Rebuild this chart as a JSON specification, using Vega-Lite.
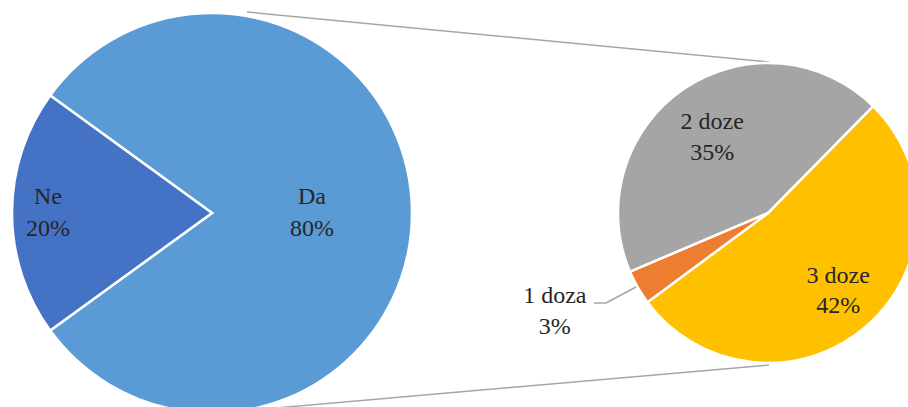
{
  "$schema": "https://vega.github.io/schema/vega-lite/v6.json",
  "width": 908,
  "height": 407,
  "padding": 0,
  "autosize": {"type": "none"},
  "background": "white",
  "config": {"view": {"stroke": null}},
  "datasets": {
    "main": [
      {"cat": "Da", "value": 80, "o": 1, "label": "Da\n80%"},
      {"cat": "Ne", "value": 20, "o": 2, "label": "Ne\n20%"}
    ],
    "sub": [
      {"cat": "3 doze", "value": 42, "o": 1, "label": "3 doze\n42%"},
      {"cat": "1 doza", "value": 3, "o": 2, "label": "1 doza\n3%"},
      {"cat": "2 doze", "value": 35, "o": 3, "label": "2 doze\n35%"}
    ],
    "one": [{}]
  },
  "resolve": {"scale": {"theta": "independent"}},
  "layer": [
    {
      "data": {"name": "one"},
      "mark": {"type": "rule", "color": "#A6A6A6", "strokeWidth": 1.5},
      "encoding": {
        "x": {"datum": 247, "type": "quantitative", "scale": {"domain": [0, 908], "nice": false}, "axis": null},
        "y": {"datum": 12, "type": "quantitative", "scale": {"domain": [0, 407], "nice": false, "reverse": true}, "axis": null},
        "x2": {"datum": 769},
        "y2": {"datum": 62}
      }
    },
    {
      "data": {"name": "one"},
      "mark": {"type": "rule", "color": "#A6A6A6", "strokeWidth": 1.5},
      "encoding": {
        "x": {"datum": 230, "type": "quantitative", "scale": {"domain": [0, 908], "nice": false}, "axis": null},
        "y": {"datum": 412, "type": "quantitative", "scale": {"domain": [0, 407], "nice": false, "reverse": true}, "axis": null},
        "x2": {"datum": 769},
        "y2": {"datum": 365}
      }
    },
    {
      "data": {"name": "main"},
      "encoding": {
        "x": {"datum": 212, "type": "quantitative", "scale": {"domain": [0, 908], "nice": false}, "axis": null},
        "y": {"datum": 213, "type": "quantitative", "scale": {"domain": [0, 407], "nice": false, "reverse": true}, "axis": null},
        "theta": {"field": "value", "type": "quantitative", "stack": true, "scale": {"range": [-0.9425, 5.3407]}},
        "order": {"field": "o", "type": "quantitative"}
      },
      "layer": [
        {
          "mark": {"type": "arc", "outerRadius": 200, "stroke": "white", "strokeWidth": 2.5},
          "encoding": {
            "color": {
              "field": "cat", "type": "nominal", "legend": null,
              "scale": {"domain": ["Da", "Ne", "1 doza", "2 doze", "3 doze"], "range": ["#5B9BD5", "#4472C4", "#ED7D31", "#A5A5A5", "#FFC000"]}
            }
          }
        },
        {
          "mark": {"type": "text", "radius": 100, "dy": -16, "font": "Liberation Serif", "fontSize": 24, "lineBreak": "\n", "lineHeight": 32, "align": "center", "baseline": "middle"},
          "encoding": {
            "detail": {"field": "cat", "type": "nominal"},
            "color": {"value": "#262626"},
            "text": {"condition": {"test": "datum.cat === 'Da'", "field": "label"}, "value": ""}
          }
        },
        {
          "mark": {"type": "text", "radius": 164, "dy": -16, "font": "Liberation Serif", "fontSize": 24, "lineBreak": "\n", "lineHeight": 32, "align": "center", "baseline": "middle"},
          "encoding": {
            "detail": {"field": "cat", "type": "nominal"},
            "color": {"value": "#262626"},
            "text": {"condition": {"test": "datum.cat === 'Ne'", "field": "label"}, "value": ""}
          }
        }
      ]
    },
    {
      "data": {"name": "sub"},
      "encoding": {
        "x": {"datum": 768, "type": "quantitative", "scale": {"domain": [0, 908], "nice": false}, "axis": null},
        "y": {"datum": 213, "type": "quantitative", "scale": {"domain": [0, 407], "nice": false, "reverse": true}, "axis": null},
        "theta": {"field": "value", "type": "quantitative", "stack": true, "scale": {"range": [0.7767, 7.0599]}},
        "order": {"field": "o", "type": "quantitative"}
      },
      "layer": [
        {
          "mark": {"type": "arc", "outerRadius": 150, "stroke": "white", "strokeWidth": 2.5},
          "encoding": {
            "color": {
              "field": "cat", "type": "nominal", "legend": null,
              "scale": {"domain": ["Da", "Ne", "1 doza", "2 doze", "3 doze"], "range": ["#5B9BD5", "#4472C4", "#ED7D31", "#A5A5A5", "#FFC000"]}
            }
          }
        },
        {
          "mark": {"type": "text", "radius": 92, "dx": -4, "dy": -15, "font": "Liberation Serif", "fontSize": 24, "lineBreak": "\n", "lineHeight": 31, "align": "center", "baseline": "middle"},
          "encoding": {
            "detail": {"field": "cat", "type": "nominal"},
            "color": {"value": "#262626"},
            "text": {"condition": {"test": "datum.cat === '2 doze'", "field": "label"}, "value": ""}
          }
        },
        {
          "mark": {"type": "text", "radius": 104, "dx": 2, "dy": -15, "font": "Liberation Serif", "fontSize": 24, "lineBreak": "\n", "lineHeight": 30, "align": "center", "baseline": "middle"},
          "encoding": {
            "detail": {"field": "cat", "type": "nominal"},
            "color": {"value": "#262626"},
            "text": {"condition": {"test": "datum.cat === '3 doze'", "field": "label"}, "value": ""}
          }
        },
        {
          "mark": {"type": "text", "radius": 234, "dx": -10, "dy": -33, "font": "Liberation Serif", "fontSize": 24, "lineBreak": "\n", "lineHeight": 31, "align": "center", "baseline": "middle"},
          "encoding": {
            "detail": {"field": "cat", "type": "nominal"},
            "color": {"value": "#262626"},
            "text": {"condition": {"test": "datum.cat === '1 doza'", "field": "label"}, "value": ""}
          }
        }
      ]
    },
    {
      "data": {"name": "one"},
      "mark": {"type": "rule", "color": "#A6A6A6", "strokeWidth": 1.5},
      "encoding": {
        "x": {"datum": 594, "type": "quantitative", "scale": {"domain": [0, 908], "nice": false}, "axis": null},
        "y": {"datum": 303, "type": "quantitative", "scale": {"domain": [0, 407], "nice": false, "reverse": true}, "axis": null},
        "x2": {"datum": 606},
        "y2": {"datum": 303}
      }
    },
    {
      "data": {"name": "one"},
      "mark": {"type": "rule", "color": "#A6A6A6", "strokeWidth": 1.5},
      "encoding": {
        "x": {"datum": 606, "type": "quantitative", "scale": {"domain": [0, 908], "nice": false}, "axis": null},
        "y": {"datum": 303, "type": "quantitative", "scale": {"domain": [0, 407], "nice": false, "reverse": true}, "axis": null},
        "x2": {"datum": 636},
        "y2": {"datum": 287}
      }
    }
  ]
}
